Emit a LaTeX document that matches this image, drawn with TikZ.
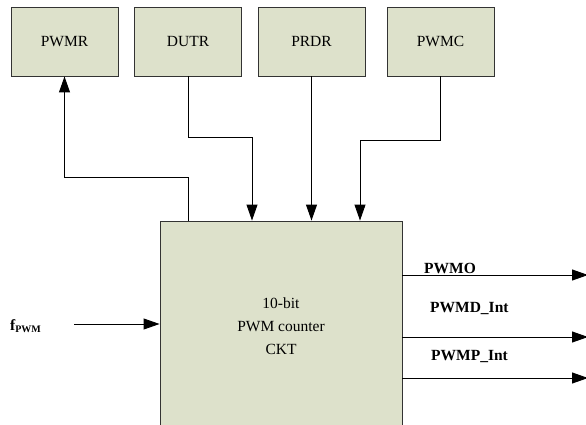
\documentclass[tikz,border=0pt]{standalone}
\usepackage{fontspec}
\setmainfont{Liberation Serif}
\usetikzlibrary{arrows.meta}
\definecolor{boxfill}{HTML}{DDE1CB}
\tikzset{
  reg/.style={draw=black!80, fill=boxfill, line width=0.9pt, minimum width=107pt, minimum height=69pt, inner sep=0pt, font=\fontsize{15.5}{18}\selectfont},
  conn/.style={line width=0.9pt, -{Triangle[length=16pt,width=11pt]}},
  lbl/.style={font=\bfseries\fontsize{15.5}{18}\selectfont, inner sep=0pt, anchor=base west}
}
\begin{document}
\begin{tikzpicture}[x=1pt,y=-1pt]
\useasboundingbox (0,0) rectangle (586,425);
\node[reg] (pwmr) at (64.5,41.5) {PWMR};
\node[reg] (dutr) at (188,41.5) {DUTR};
\node[reg] (prdr) at (311.5,41.5) {PRDR};
\node[reg] (pwmc) at (440.5,41.5) {PWMC};
\node[reg, minimum width=242pt, minimum height=219pt] (ckt) at (281,330.5) {};
\node[align=center, inner sep=0pt, font=\fontsize{15.5}{23}\selectfont] (ckttext) at (281,326) {10-bit\\PWM counter\\CKT};
% top connections
\draw[conn] (ckt.north -| dutr.south) -- ++(0,-43) -| (pwmr.south);
\draw[conn] (dutr.south) -- ++(0,61) -| ([xshift=-29pt]ckt.north);
\draw[conn] (prdr.south) -- (prdr.south |- ckt.north);
\draw[conn] (pwmc.south) -- ++(0,64) -| ([xshift=79pt]ckt.north);
% input
\coordinate (fin) at (74,324);
\draw[conn] (fin) -- (ckt.west |- fin);
\node[lbl] (flbl) at (10,330) {f\textsubscript{\fontsize{10}{10}\selectfont PWM}};
% outputs
\coordinate (o1) at (588,275);
\coordinate (o2) at (588,337);
\coordinate (o3) at (588,378);
\draw[conn] (ckt.east |- o1) -- (o1);
\draw[conn] (ckt.east |- o2) -- (o2);
\draw[conn] (ckt.east |- o3) -- (o3);
\node[lbl] (l1) at (424,273) {PWMO};
\node[lbl] (l2) at (430,312) {PWMD\_Int};
\node[lbl] (l3) at (431,360) {PWMP\_Int};
\end{tikzpicture}
\end{document}
